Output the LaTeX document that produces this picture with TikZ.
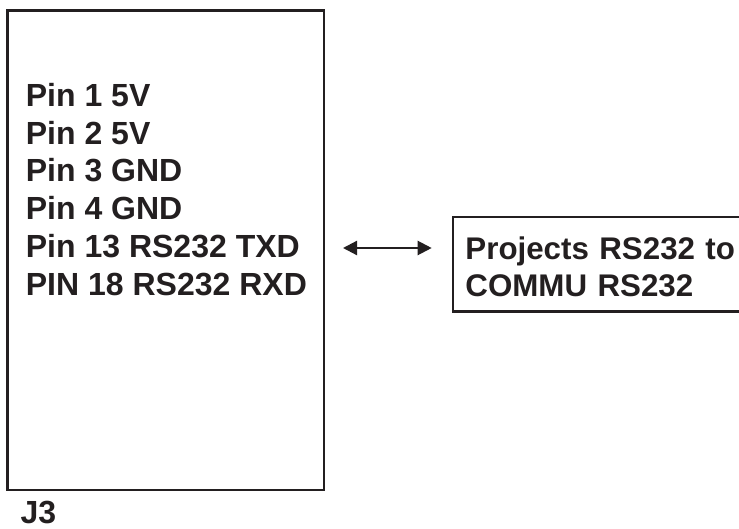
\documentclass[tikz,border=0pt]{standalone}
\usepackage{fontspec}
\setmainfont{Liberation Sans}
\usetikzlibrary{arrows.meta}
\definecolor{ink}{HTML}{231F20}
\tikzset{
  box/.style={draw=ink, line width=2.5pt, rectangle, inner sep=0pt},
  label/.style={text=ink, font=\fontsize{32}{37.8}\selectfont\bfseries, inner sep=0pt, align=left},
  link/.style={draw=ink, line width=2.2pt, {Triangle[length=14pt,width=14pt]}-{Triangle[length=14pt,width=14pt]}}
}
\begin{document}
\begin{tikzpicture}[x=1pt,y=-1pt]
\useasboundingbox[fill=white] (0,0) rectangle (739,529);
\node[box, minimum width=316.7pt, minimum height=479.5pt] (j3box) at (165.7,250.3) {};
\node[label, anchor=north west] (pins) at (25.7,83)
  {Pin 1 5V\\Pin 2 5V\\Pin 3 GND\\Pin 4 GND\\Pin 13 RS232 TXD\\PIN 18 RS232 RXD};
\node[label, anchor=base west] (j3label) at (20.5,523) {J3};
\node[box, label, font=\fontsize{31.3}{37.8}\selectfont\bfseries, anchor=north west,
      minimum width=320pt, minimum height=94.5pt,
      inner xsep=11.5pt, text width=295pt] (proj) at (451.7,216)
  {\rule{0pt}{27.4pt}Projects RS232 to\\COMMU RS232};
\coordinate (a1) at (343,248);
\coordinate (a2) at (431.7,248);
\draw[link] (a1) -- (a2);
\end{tikzpicture}
\end{document}
